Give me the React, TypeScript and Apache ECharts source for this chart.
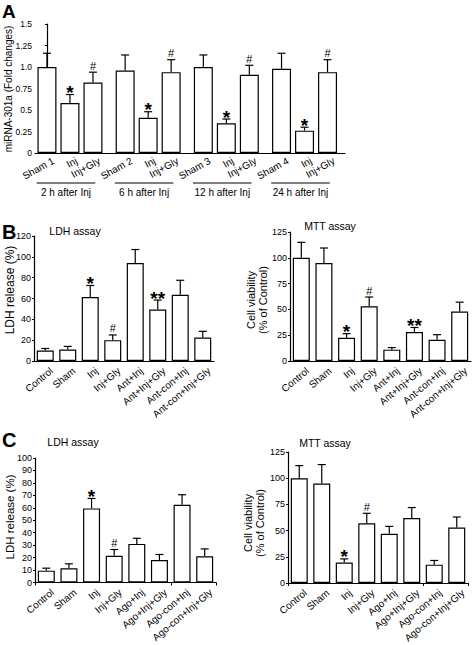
import React, { useEffect, useRef } from "react";
import * as echarts from "echarts";

const FONT = '"Liberation Sans", Arial, Helvetica, sans-serif';

// ---------- Panel A ----------
const aGroups = ["2 h after Inj", "6 h after Inj", "12 h after Inj", "24 h after Inj"];
const aLabels = ["Sham 1", "Inj", "Inj+Gly", "Sham 2", "Inj", "Inj+Gly", "Sham 3", "Inj", "Inj+Gly", "Sham 4", "Inj", "Inj+Gly"];
const aValues = [1.0, 0.58, 0.82, 0.96, 0.41, 0.94, 1.0, 0.345, 0.91, 0.98, 0.26, 0.94];
const aErrors = [0.16, 0.1, 0.12, 0.18, 0.07, 0.145, 0.14, 0.05, 0.11, 0.18, 0.04, 0.145];
const aMarks = ["", "*", "#", "", "*", "#", "", "*", "#", "", "*", "#"];

// ---------- Panel B ----------
const bCats = ["Control", "Sham", "Inj", "Inj+Gly", "Ant+Inj", "Ant+Inj+Gly", "Ant-con+Inj", "Ant-con+Inj+Gly"];
const bLdh = [10, 11, 61.5, 20, 94, 49.5, 63.5, 22.5];
const bLdhErr = [2, 3, 11, 5, 13, 9, 14, 6];
const bLdhMarks = ["", "", "*", "#", "", "**", "", ""];
const bMtt = [100, 95, 22.5, 53, 11, 28, 20.5, 48];
const bMttErr = [15, 14.5, 4, 9, 2, 4.5, 5, 9];
const bMttMarks = ["", "", "*", "#", "", "**", "", ""];

// ---------- Panel C ----------
const cCats = ["Control", "Sham", "Inj", "Inj+Gly", "Ago+Inj", "Ago+Inj+Gly", "Ago-con+Inj", "Ago-con+Inj+Gly"];
const cLdh = [9.5, 11.5, 59.5, 21.5, 31, 18, 62.5, 21];
const cLdhErr = [2, 3.5, 8, 5, 4.5, 4.5, 8, 6];
const cLdhMarks = ["", "", "*", "#", "", "", "", ""];
const cMtt = [100, 95, 19.5, 57, 47, 62, 17.5, 53];
const cMttErr = [12, 18, 3.5, 9.5, 7, 10, 4, 10];
const cMttMarks = ["", "", "*", "#", "", "", "", ""];

const GROUP_STEP = 3.4;
const posA = (i: number) => Math.floor(i / 3) * GROUP_STEP + (i % 3);

const barStyle = { color: "#fff", borderColor: "#000", borderWidth: 1.2 };

function errSeries(idx: number, xs: number[], vals: number[], errs: number[], marks: string[]) {
  return {
    type: "custom",
    xAxisIndex: idx,
    yAxisIndex: idx,
    z: 5,
    silent: true,
    data: vals.map((v, i) => [xs[i], v, errs[i]]),
    renderItem: (params: any, api: any) => {
      const x = api.value(0);
      const v = api.value(1);
      const e = api.value(2);
      const b = api.coord([x, v]);
      const t = api.coord([x, v + e]);
      const children: any[] = [
        { type: "line", shape: { x1: b[0], y1: b[1], x2: t[0], y2: t[1] }, style: { stroke: "#000", lineWidth: 1.2 } },
        { type: "line", shape: { x1: t[0] - 4, y1: t[1], x2: t[0] + 4, y2: t[1] }, style: { stroke: "#000", lineWidth: 1.2 } },
      ];
      const m = marks[params.dataIndex];
      if (m) {
        const star = m.indexOf("*") >= 0;
        children.push({
          type: "text",
          x: t[0],
          y: t[1] - (star ? 2 : 6.5),
          style: {
            text: m,
            font: star ? `bold 19px ${FONT}` : `11px ${FONT}`,
            fill: "#000",
            align: "center",
            verticalAlign: "middle",
          },
        });
      }
      return { type: "group", children };
    },
  };
}

// rotated category labels hanging below the axis, anchored by their top-right corner
function labelSeries(idx: number, xs: number[], labels: string[], angle: number, fontSize: number, dx: number, dy: number) {
  return {
    type: "custom",
    xAxisIndex: idx,
    yAxisIndex: idx,
    silent: true,
    data: labels.map((_, i) => [xs[i], 0]),
    renderItem: (params: any, api: any) => {
      const p = api.coord([api.value(0), 0]);
      return {
        type: "text",
        x: p[0] + dx,
        y: p[1] + dy,
        rotation: (angle * Math.PI) / 180,
        style: {
          text: labels[params.dataIndex],
          font: `${fontSize}px ${FONT}`,
          fill: "#000",
          align: "right",
          verticalAlign: "top",
        },
      };
    },
  };
}

function yAxis(idx: number, min: number, max: number, interval: number, fontSize: number, fmt?: (v: number) => string) {
  return {
    type: "value",
    gridIndex: idx,
    min,
    max,
    interval,
    axisLine: { show: true, lineStyle: { color: "#000", width: 1.2 } },
    axisTick: { show: true, length: 2, lineStyle: { color: "#000" } },
    axisLabel: { fontSize, color: "#000", margin: 3, fontFamily: FONT, formatter: fmt },
    splitLine: { show: false },
  };
}

function catAxis(idx: number, cats: string[], ticks: boolean) {
  return {
    type: "category",
    gridIndex: idx,
    data: cats,
    boundaryGap: true,
    axisLine: { show: true, lineStyle: { color: "#000", width: 1.2 } },
    axisTick: { show: ticks, length: 3, alignWithLabel: false, lineStyle: { color: "#000" } },
    axisLabel: { show: false },
    splitLine: { show: false },
  };
}

const txt = (text: string, x: number, y: number, font: string, extra: any = {}) => ({
  type: "text",
  x,
  y,
  ...extra,
  style: { text, font, fill: "#000", align: "center", verticalAlign: "middle", ...(extra.style || {}) },
});

function buildOption() {
  const idx8 = [0, 1, 2, 3, 4, 5, 6, 7];
  const aXs = aValues.map((_, i) => posA(i));
  return {
    animation: false,
    backgroundColor: "#fff",
    textStyle: { fontFamily: FONT },
    grid: [
      { left: 35, top: 24, width: 310, height: 129 },
      { left: 34, top: 236, width: 180, height: 125 },
      { left: 290, top: 232, width: 181, height: 129 },
      { left: 35, top: 458, width: 181, height: 124.5 },
      { left: 288, top: 452, width: 180, height: 131 },
    ],
    xAxis: [
      {
        type: "value",
        gridIndex: 0,
        min: -0.52,
        max: 12.96,
        axisLine: { show: true, lineStyle: { color: "#000", width: 1.2 } },
        axisTick: { show: false },
        axisLabel: { show: false },
        splitLine: { show: false },
      },
      catAxis(1, bCats, false),
      catAxis(2, bCats, false),
      catAxis(3, cCats, true),
      catAxis(4, cCats, true),
    ],
    yAxis: [
      yAxis(0, 0, 1.5, 0.25, 8.5, (v: number) => (v === 0 ? "0" : v === 1 ? "1.0" : String(v))),
      yAxis(1, 0, 120, 20, 9),
      yAxis(2, 0, 125, 25, 9),
      yAxis(3, 0, 100, 10, 9),
      yAxis(4, 0, 125, 25, 9),
    ],
    series: [
      // Panel A
      {
        type: "bar",
        xAxisIndex: 0,
        yAxisIndex: 0,
        barWidth: 19,
        itemStyle: barStyle,
        silent: true,
        data: aValues.map((v, i) => [aXs[i], v]),
      },
      errSeries(0, aXs, aValues, aErrors, aMarks),
      labelSeries(0, aXs, aLabels, 29, 10, 4, 2.5),
      {
        type: "custom",
        xAxisIndex: 0,
        yAxisIndex: 0,
        silent: true,
        data: aGroups.map((_, g) => [g * GROUP_STEP - 0.45, g * GROUP_STEP + 2.1]),
        renderItem: (params: any, api: any) => {
          const p1 = api.coord([api.value(0), 0]);
          const p2 = api.coord([api.value(1), 0]);
          const y = p1[1] + 30;
          return {
            type: "group",
            children: [
              { type: "line", shape: { x1: p1[0], y1: y, x2: p2[0], y2: y }, style: { stroke: "#000", lineWidth: 1 } },
              {
                type: "text",
                x: (p1[0] + p2[0]) / 2,
                y: y + 9,
                style: { text: aGroups[params.dataIndex], font: `10px ${FONT}`, fill: "#000", align: "center", verticalAlign: "middle" },
              },
            ],
          };
        },
      },
      // Panel B
      { type: "bar", xAxisIndex: 1, yAxisIndex: 1, barWidth: 17, itemStyle: barStyle, silent: true, data: bLdh },
      errSeries(1, idx8, bLdh, bLdhErr, bLdhMarks),
      labelSeries(1, idx8, bCats, 40, 10, 3, 4.5),
      { type: "bar", xAxisIndex: 2, yAxisIndex: 2, barWidth: 17, itemStyle: barStyle, silent: true, data: bMtt },
      errSeries(2, idx8, bMtt, bMttErr, bMttMarks),
      labelSeries(2, idx8, bCats, 40, 10, 3, 4.5),
      // Panel C
      { type: "bar", xAxisIndex: 3, yAxisIndex: 3, barWidth: 17, itemStyle: barStyle, silent: true, data: cLdh },
      errSeries(3, idx8, cLdh, cLdhErr, cLdhMarks),
      labelSeries(3, idx8, cCats, 40, 10, 3, 4.5),
      { type: "bar", xAxisIndex: 4, yAxisIndex: 4, barWidth: 17, itemStyle: barStyle, silent: true, data: cMtt },
      errSeries(4, idx8, cMtt, cMttErr, cMttMarks),
      labelSeries(4, idx8, cCats, 40, 10, 3, 4.5),
    ],
    graphic: [
      txt("A", 2, 11, `bold 19px ${FONT}`, { style: { align: "left" } }),
      txt("B", 2, 232, `bold 20px ${FONT}`, { style: { align: "left" } }),
      txt("C", 2, 440, `bold 20px ${FONT}`, { style: { align: "left" } }),
      txt("LDH assay", 75, 231, `10.5px ${FONT}`),
      txt("MTT assay", 330, 226, `10.5px ${FONT}`),
      txt("LDH assay", 73, 442, `10.5px ${FONT}`),
      txt("MTT assay", 325, 443, `10.5px ${FONT}`),
      txt("miRNA-301a (Fold changes)", 8.5, 89, `10px ${FONT}`, { rotation: Math.PI / 2 }),
      txt("LDH release (%)", 10, 290, `12px ${FONT}`, { rotation: Math.PI / 2 }),
      txt("Cell viability\n(% of Control)", 257, 300, `11px ${FONT}`, { rotation: Math.PI / 2, style: { lineHeight: 12 } }),
      txt("LDH release (%)", 10, 517, `11.5px ${FONT}`, { rotation: Math.PI / 2 }),
      txt("Cell viability\n(% of Control)", 254, 523, `11px ${FONT}`, { rotation: Math.PI / 2, style: { lineHeight: 12 } }),
    ],
  };
}

export default function App() {
  const ref = useRef<HTMLDivElement>(null);
  useEffect(() => {
    if (!ref.current) return;
    const chart = echarts.init(ref.current, undefined, { renderer: "svg" });
    chart.setOption(buildOption() as any);
    return () => chart.dispose();
  }, []);
  return (
    <div
      ref={ref}
      style={{ position: "fixed", left: 0, top: 0, width: 472, height: 645, background: "#fff" }}
    />
  );
}
